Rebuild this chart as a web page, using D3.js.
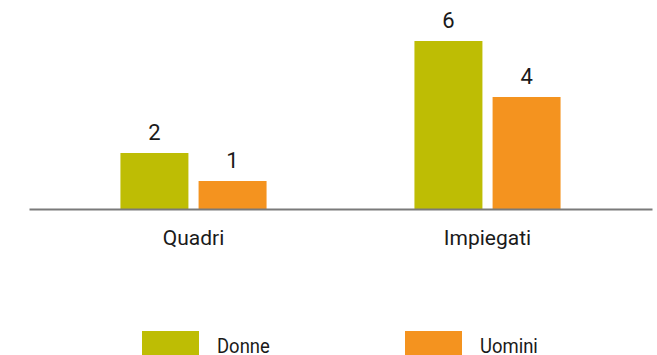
<!DOCTYPE html>
<html>
<head>
<meta charset="utf-8">
<script src="https://cdn.jsdelivr.net/npm/d3@7"></script>
<style>
  html, body { margin: 0; padding: 0; background: #fff; overflow: hidden; }
  svg { display: block; }
  text { font-family: Roboto, "Noto Sans", sans-serif; fill: #1a1a1a; }
</style>
</head>
<body>
<svg id="chart" width="657" height="355"></svg>
<script>
// Staff by role and gender
const categories = ["Quadri", "Impiegati"];
const seriesNames = ["Donne", "Uomini"];
const donne = [2, 6];
const uomini = [1, 4];
const seriesColors = ["#bebd04", "#f4931f"];

const svg = d3.select("#chart");

const x0 = d3.scaleBand()
  .domain(categories)
  .range([29, 652])
  .paddingInner(0.503)
  .paddingOuter(0.311);

const x1 = d3.scaleBand()
  .domain(seriesNames)
  .range([0, x0.bandwidth()])
  .paddingInner(0.13);

const y = d3.scaleLinear()
  .domain([0, 6])
  .range([209, 41]);

const color = d3.scaleOrdinal().domain(seriesNames).range(seriesColors);

const rows = categories.map((c, i) => ({
  category: c,
  values: [
    { key: "Donne", value: donne[i] },
    { key: "Uomini", value: uomini[i] }
  ]
}));

const groups = svg.selectAll("g.group")
  .data(rows)
  .join("g")
  .attr("class", "group")
  .attr("transform", d => `translate(${x0(d.category)},0)`);

groups.selectAll("rect")
  .data(d => d.values)
  .join("rect")
  .attr("x", d => x1(d.key))
  .attr("y", d => y(d.value))
  .attr("width", x1.bandwidth())
  .attr("height", d => y(0) - y(d.value))
  .attr("fill", d => color(d.key));

groups.selectAll("text.value")
  .data(d => d.values)
  .join("text")
  .attr("class", "value")
  .attr("x", d => x1(d.key) + x1.bandwidth() / 2)
  .attr("y", d => y(d.value) - 13)
  .attr("text-anchor", "middle")
  .style("font-size", "22px")
  .text(d => d.value);

// Category axis: baseline line plus labels, no ticks
const xAxis = d3.axisBottom(x0).tickSize(0).tickPadding(21);
const axisG = svg.append("g")
  .attr("transform", `translate(0,${y(0)})`)
  .call(xAxis);
axisG.select(".domain").attr("stroke", "#7a7a7a").attr("stroke-width", 2);
axisG.selectAll(".tick text")
  .style("font-size", "21px")
  .style("font-family", "Roboto, sans-serif")
  .attr("fill", "#1a1a1a")
  .attr("dy", "0.71em")
  .attr("y", 21);

// Legend: swatch plus a slightly narrowed label
const legendX = [142, 405];
const legend = svg.selectAll("g.legend")
  .data(seriesNames)
  .join("g")
  .attr("class", "legend")
  .attr("transform", (d, i) => `translate(${legendX[i]},331)`);

legend.append("rect")
  .attr("width", 57)
  .attr("height", 26)
  .attr("fill", d => color(d));

legend.append("text")
  .attr("transform", "translate(75,21.5) scale(0.9,1)")
  .style("font-size", "20.5px")
  .text(d => d);
</script>
</body>
</html>
